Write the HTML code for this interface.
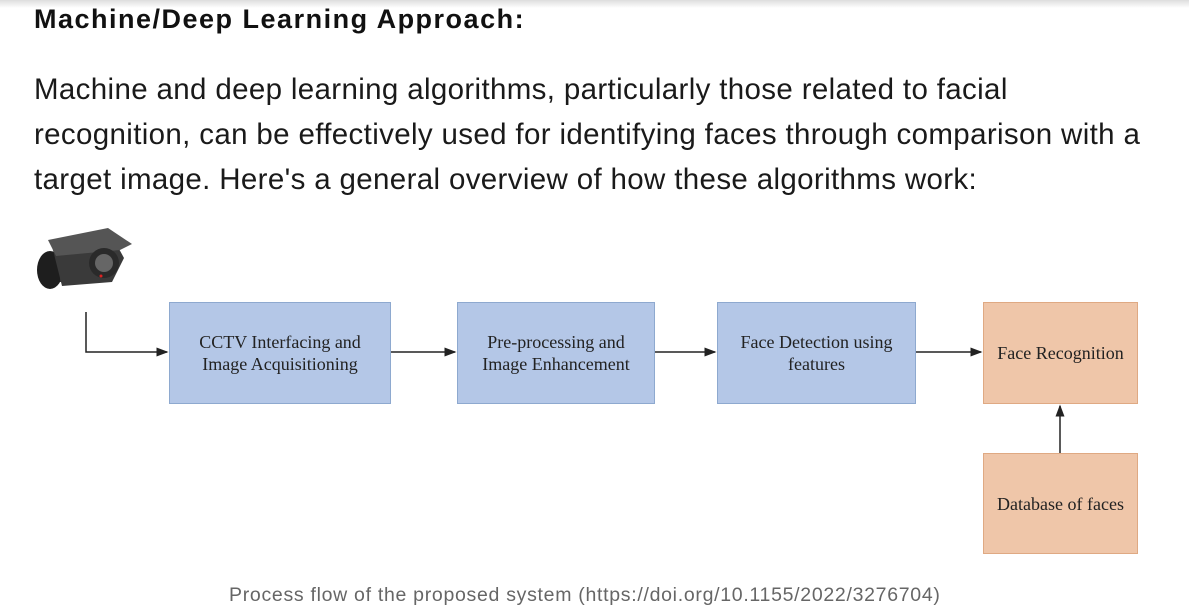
<!DOCTYPE html>
<html><head><style>
body{margin:0;width:1189px;height:601px;overflow:hidden;background:#fff;font-family:"Liberation Sans",sans-serif;position:relative;}
.shadow{position:absolute;left:0;top:0;width:1189px;height:8px;background:linear-gradient(#ddd,#fff);}
h3{position:absolute;left:34px;top:4px;margin:0;font-size:27px;letter-spacing:1.5px;font-weight:bold;color:#111;white-space:nowrap;}
p{position:absolute;left:34px;top:67px;margin:0;font-size:29.5px;letter-spacing:0.35px;line-height:45px;color:#1a1a1a;white-space:nowrap;}
.b{position:absolute;box-sizing:border-box;display:flex;align-items:center;justify-content:center;text-align:center;font-family:"Liberation Serif",serif;font-size:18px;line-height:22px;color:#222;}
.bl{background:#b4c7e7;border:1.5px solid #8ea9cf;}
.or{background:#efc6a9;border:1.5px solid #dfa983;}
.cap{position:absolute;left:229px;top:584px;font-size:19.5px;letter-spacing:0.7px;color:#666;white-space:nowrap;}
</style></head><body>
<div class="shadow"></div>
<h3>Machine/Deep Learning Approach:</h3>
<p>Machine and deep learning algorithms, particularly those related to facial<br>recognition, can be effectively used for identifying faces through comparison with a<br>target image. Here's a general overview of how these algorithms work:</p>
<svg style="position:absolute;left:0;top:0" width="1189" height="601">
<defs><marker id="a" markerWidth="8" markerHeight="8" refX="7" refY="4" orient="auto"><path d="M0,1 L8,4 L0,7 z" fill="#222"/></marker></defs>
<g>
<ellipse cx="50" cy="270" rx="13" ry="19" fill="#1e1e1e"/>
<rect x="60" y="268" width="18" height="14" fill="#333"/>
<path d="M52,246 L112,236 L124,258 L112,282 L62,286 Z" fill="#3a3a3a"/>
<path d="M48,240 L108,228 L132,244 L120,250 L56,256 Z" fill="#555"/>
<circle cx="104" cy="263" r="15" fill="#2a2a2a"/>
<circle cx="104" cy="263" r="9" fill="#666"/>
<circle cx="101" cy="276" r="1.5" fill="#d22"/>
</g>
<path d="M86,312 V352 H167" stroke="#222" stroke-width="1.5" fill="none" marker-end="url(#a)"/>
<path d="M390,352 H455" stroke="#222" stroke-width="1.5" fill="none" marker-end="url(#a)"/>
<path d="M654,352 H715" stroke="#222" stroke-width="1.5" fill="none" marker-end="url(#a)"/>
<path d="M915,352 H981" stroke="#222" stroke-width="1.5" fill="none" marker-end="url(#a)"/>
<path d="M1060,453 V406" stroke="#222" stroke-width="1.5" fill="none" marker-end="url(#a)"/>
</svg>
<div class="b bl" style="left:169px;top:302px;width:222px;height:102px;">CCTV Interfacing and<br>Image Acquisitioning</div>
<div class="b bl" style="left:457px;top:302px;width:198px;height:102px;">Pre-processing and<br>Image Enhancement</div>
<div class="b bl" style="left:717px;top:302px;width:199px;height:102px;">Face Detection using<br>features</div>
<div class="b or" style="left:983px;top:302px;width:155px;height:102px;">Face Recognition</div>
<div class="b or" style="left:983px;top:453px;width:155px;height:101px;">Database of faces</div>
<div class="cap">Process flow of the proposed system (https://doi.org/10.1155/2022/3276704)</div>
</body></html>
